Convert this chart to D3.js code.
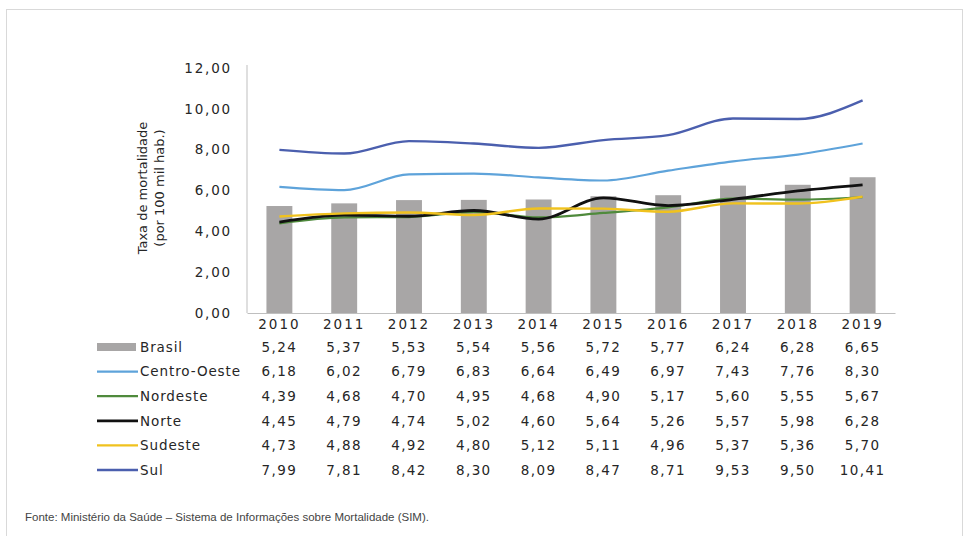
<!DOCTYPE html>
<html>
<head>
<meta charset="utf-8">
<script src="https://cdn.jsdelivr.net/npm/d3@7"></script>
<style>
  body { margin: 0; background: #fff; }
  text { font-family: "DejaVu Sans", sans-serif; fill: #262626; }
</style>
</head>
<body>
<div id="chart"></div>
<script>
const years = ["2010", "2011", "2012", "2013", "2014", "2015", "2016", "2017", "2018", "2019"];
const brasil = [5.24, 5.37, 5.53, 5.54, 5.56, 5.72, 5.77, 6.24, 6.28, 6.65];
const centroOeste = [6.18, 6.02, 6.79, 6.83, 6.64, 6.49, 6.97, 7.43, 7.76, 8.30];
const nordeste = [4.39, 4.68, 4.70, 4.95, 4.68, 4.90, 5.17, 5.60, 5.55, 5.67];
const norte = [4.45, 4.79, 4.74, 5.02, 4.60, 5.64, 5.26, 5.57, 5.98, 6.28];
const sudeste = [4.73, 4.88, 4.92, 4.80, 5.12, 5.11, 4.96, 5.37, 5.36, 5.70];
const sul = [7.99, 7.81, 8.42, 8.30, 8.09, 8.47, 8.71, 9.53, 9.50, 10.41];
const yTicks = [0, 2, 4, 6, 8, 10, 12];

const lineSeries = [
  { name: "Centro-Oeste", values: centroOeste, color: "#5ea3da", w: 2.2 },
  { name: "Nordeste", values: nordeste, color: "#4f8a3c", w: 2.2 },
  { name: "Norte", values: norte, color: "#111111", w: 2.8 },
  { name: "Sudeste", values: sudeste, color: "#f0c21e", w: 2.4 },
  { name: "Sul", values: sul, color: "#4b5fae", w: 2.4 }
];
const rows = [{ name: "Brasil", values: brasil, color: "#a8a6a6", bar: true }, ...lineSeries];

const width = 965, height = 536;
const svg = d3.select("#chart").append("svg")
  .attr("width", width).attr("height", height);

// outer frame
svg.append("rect")
  .attr("x", 6.5).attr("y", 9.5).attr("width", 956).attr("height", 540)
  .attr("fill", "none").attr("stroke", "#d9d9d9");

const x = d3.scaleBand().domain(years).range([247, 895]).paddingInner(0.6).paddingOuter(0.3);
const y = d3.scaleLinear().domain([0, 12]).range([313, 68]);
const fmt = v => d3.format(".2f")(v).replace(".", ",");

// bars
svg.selectAll(".bar").data(brasil).enter().append("rect")
  .attr("x", (d, i) => x(years[i]))
  .attr("width", x.bandwidth())
  .attr("y", d => y(d))
  .attr("height", d => y(0) - y(d))
  .attr("fill", "#a8a6a6");

// axes
const yAxis = svg.append("g").attr("transform", "translate(247,0)")
  .call(d3.axisLeft(y).tickValues(yTicks).tickSize(0).tickPadding(15).tickFormat(fmt));
yAxis.select(".domain").attr("stroke", "#bfbfbf").attr("d", `M0,${y(12) - 3}V${y(0)}`);
yAxis.selectAll("text").style("font-size", "13.5px").style("letter-spacing", "1.8px");

const xAxis = svg.append("g").attr("transform", `translate(0,${y(0)})`)
  .call(d3.axisBottom(x).tickSize(0).tickPadding(6));
xAxis.select(".domain").attr("stroke", "#bfbfbf");
xAxis.selectAll("text").style("font-size", "13.5px").style("letter-spacing", "2px");

// lines
const line = d3.line()
  .x((d, i) => x(years[i]) + x.bandwidth() / 2)
  .y(d => y(d))
  .curve(d3.curveMonotoneX);

svg.selectAll(".series").data(lineSeries).enter().append("path")
  .attr("d", d => line(d.values))
  .attr("fill", "none")
  .attr("stroke", d => d.color)
  .attr("stroke-width", d => d.w);

// y title
const yt = svg.append("text")
  .attr("transform", "translate(147,188) rotate(-90)")
  .attr("text-anchor", "middle")
  .style("font-size", "13px");
yt.append("tspan").attr("x", 0).attr("dy", 0).text("Taxa de mortalidade");
yt.append("tspan").attr("x", 0).attr("dy", 17).text("(por 100 mil hab.)");

// data table with legend keys
const rowY = d3.scalePoint().domain(rows.map(d => d.name)).range([347, 470]);
const tr = svg.selectAll(".row").data(rows).enter().append("g")
  .attr("transform", d => `translate(0,${rowY(d.name)})`);

tr.filter(d => d.bar).append("rect")
  .attr("x", 97).attr("y", -4).attr("width", 39).attr("height", 8)
  .attr("fill", d => d.color);
tr.filter(d => !d.bar).append("line")
  .attr("x1", 97).attr("x2", 138)
  .attr("stroke", d => d.color).attr("stroke-width", d => d.w);

tr.append("text")
  .attr("x", 140).attr("dy", "0.35em")
  .style("font-size", "13.5px").style("letter-spacing", "0.9px")
  .text(d => d.name);

tr.selectAll(".val").data(d => d.values).enter().append("text")
  .attr("x", (v, i) => x(years[i]) + x.bandwidth() / 2)
  .attr("dy", "0.35em")
  .attr("text-anchor", "middle")
  .style("font-size", "13.5px").style("letter-spacing", "1.4px")
  .text(fmt);

// source note
svg.append("text")
  .attr("x", 25).attr("y", 521)
  .style("font-family", "'Liberation Sans Narrow', 'Liberation Sans', sans-serif")
  .style("font-size", "11.5px").style("fill", "#444")
  .text("Fonte: Ministério da Saúde – Sistema de Informações sobre Mortalidade (SIM).");
</script>
</body>
</html>
